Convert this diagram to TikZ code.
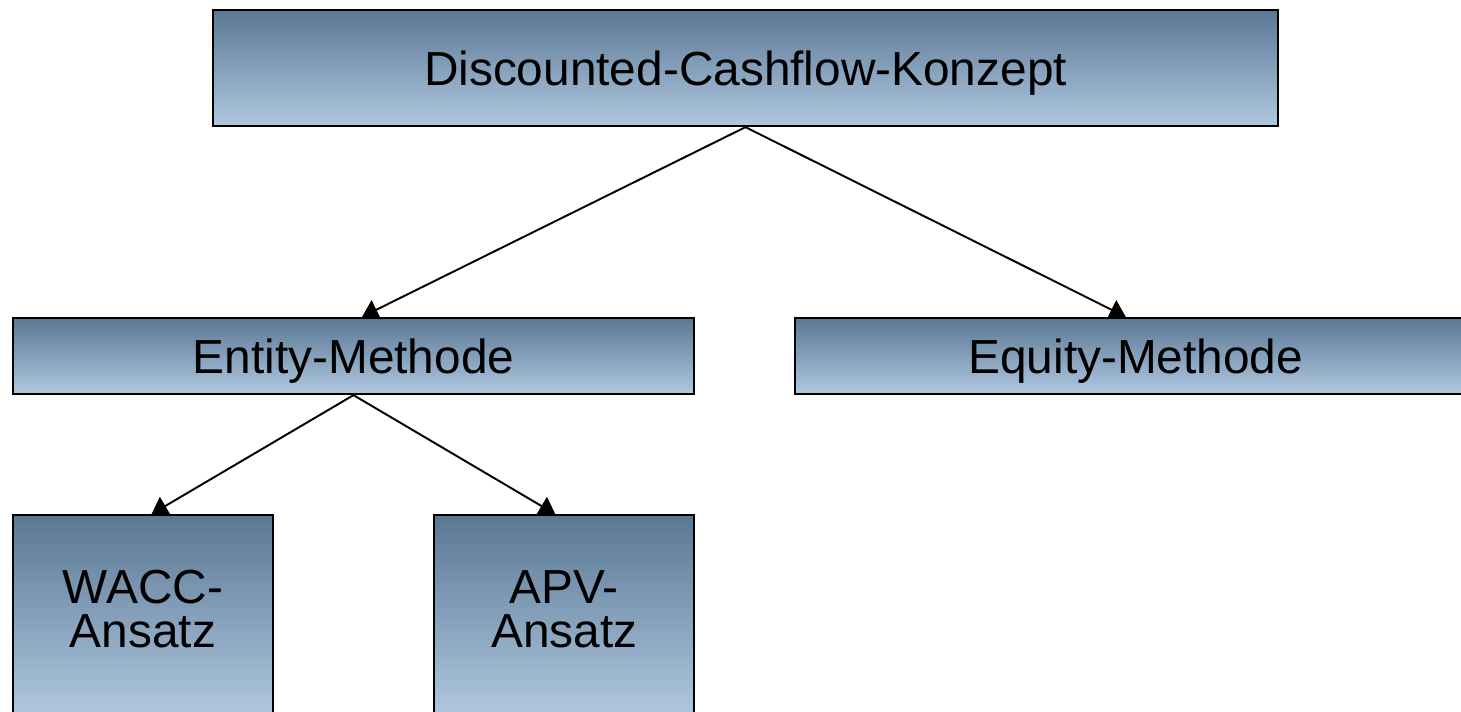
\documentclass[tikz,border=0pt]{standalone}
\usepackage{fontspec}
\setmainfont{Liberation Sans}
\usepackage{tikz}
\usepackage{xcolor}
\usetikzlibrary{shapes,arrows.meta,positioning,calc}

\definecolor{boxtop}{HTML}{5A7894}
\definecolor{boxbottom}{HTML}{B0C8E0}

\begin{document}
\begin{tikzpicture}[
    box/.style={rectangle, draw, line width=1.3pt, top color=boxtop, bottom color=boxbottom,
                font=\fontsize{27.2}{25}\selectfont, inner sep=0pt},
    wide/.style={box, minimum width=13.62cm, minimum height=1.52cm, text height=24.5pt, text depth=5pt},
    tall/.style={box, align=center, minimum width=5.2cm, minimum height=4.02cm, text depth=7.9pt},
    arrow/.style={-{Triangle[length=0.32cm,width=0.42cm]}, line width=1.1pt}
]
    \useasboundingbox (0,0) rectangle (29.22,14.24);
    \node[wide, minimum width=21.3cm, minimum height=2.32cm] (dcf) at (14.91,12.88) {Discounted-Cashflow-Konzept};
    \node[wide] (entity) at (7.07,7.12) {Entity-Methode};
    \node[wide, right=1.98cm of entity] (equity) {Equity-Methode};
    \node[tall, below=2.38cm of entity.south west, anchor=north west] (wacc) {WACC-\\Ansatz};
    \node[tall, right=3.18cm of wacc] (apv) {APV-\\Ansatz};

    \draw[arrow] (dcf.south) -- ([xshift=0.17cm]entity.north);
    \draw[arrow] (dcf.south) -- ([xshift=-0.2cm]equity.north);
    \draw[arrow] (entity.south) -- ([xshift=0.17cm]wacc.north);
    \draw[arrow] (entity.south) -- ([xshift=-0.18cm]apv.north);
\end{tikzpicture}
\end{document}
